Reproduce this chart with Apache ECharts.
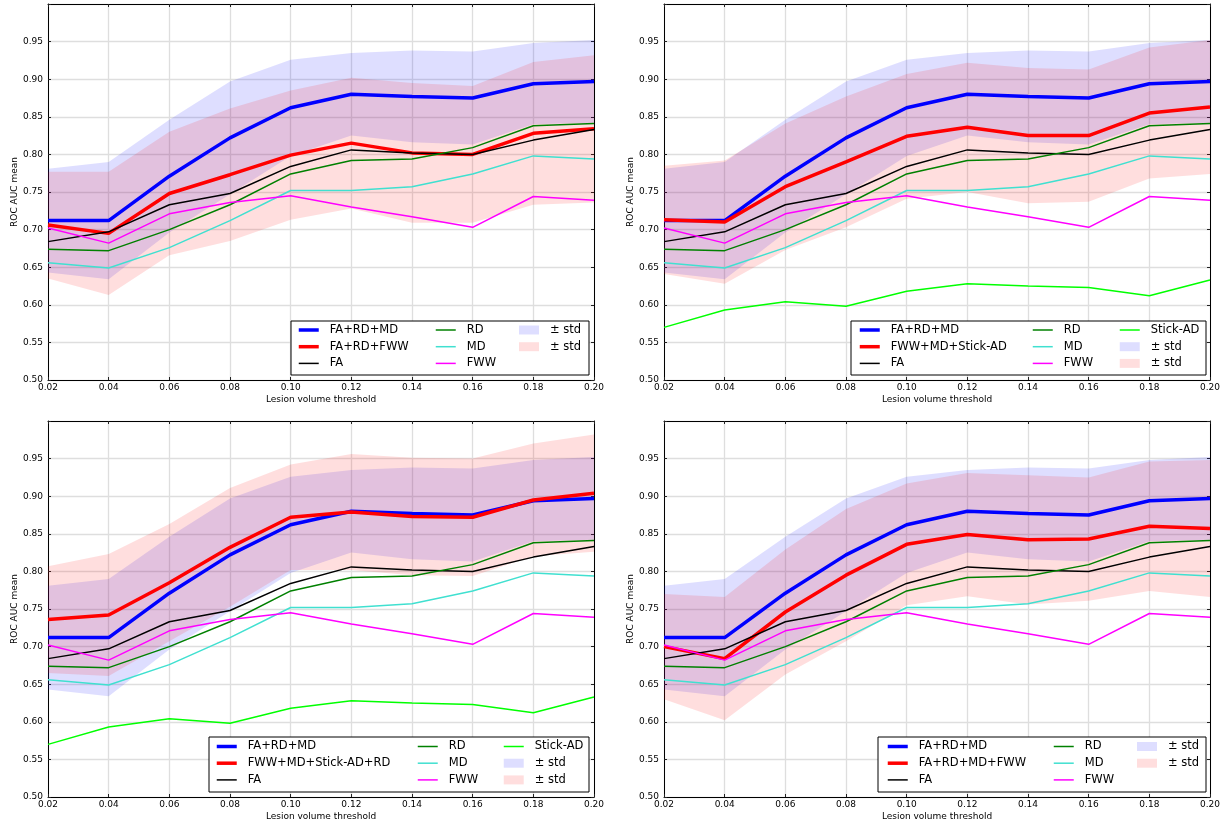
<!DOCTYPE html>
<html><head><meta charset="utf-8">
<script src="https://cdn.jsdelivr.net/npm/echarts@6/dist/echarts.min.js"></script>
<style>html,body{margin:0;padding:0;background:#fff}#c{width:1228px;height:828px}</style>
</head><body><div id="c"></div>
<script>
// ---------- data ----------
const thresholds = ['0.02', '0.04', '0.06', '0.08', '0.10', '0.12', '0.14', '0.16', '0.18', '0.20'];

const faRdMd    = [0.712, 0.712, 0.771, 0.822, 0.862, 0.880, 0.877, 0.875, 0.894, 0.897];
const faRdMdStd = [0.069, 0.078, 0.075, 0.075, 0.064, 0.055, 0.061, 0.062, 0.054, 0.055];

const fa      = [0.684, 0.697, 0.733, 0.748, 0.784, 0.806, 0.802, 0.800, 0.819, 0.833];
const rd      = [0.674, 0.672, 0.700, 0.733, 0.774, 0.792, 0.794, 0.809, 0.838, 0.841];
const md      = [0.656, 0.649, 0.676, 0.712, 0.752, 0.752, 0.757, 0.774, 0.798, 0.794];
const fww     = [0.702, 0.682, 0.721, 0.736, 0.745, 0.730, 0.717, 0.703, 0.744, 0.739];
const stickAd = [0.570, 0.593, 0.604, 0.598, 0.618, 0.628, 0.625, 0.623, 0.612, 0.633];

const faRdFww    = [0.706, 0.695, 0.748, 0.773, 0.799, 0.815, 0.802, 0.800, 0.828, 0.834];
const faRdFwwStd = [0.071, 0.082, 0.082, 0.088, 0.086, 0.087, 0.093, 0.091, 0.095, 0.098];

const fwwMdStick    = [0.713, 0.710, 0.757, 0.790, 0.824, 0.836, 0.825, 0.825, 0.855, 0.863];
const fwwMdStickStd = [0.072, 0.082, 0.084, 0.087, 0.083, 0.086, 0.090, 0.088, 0.087, 0.089];

const fwwMdStickRd    = [0.736, 0.742, 0.785, 0.832, 0.872, 0.879, 0.873, 0.872, 0.895, 0.904];
const fwwMdStickRdStd = [0.071, 0.081, 0.078, 0.079, 0.070, 0.077, 0.078, 0.078, 0.075, 0.078];

const faRdMdFww    = [0.700, 0.684, 0.746, 0.795, 0.836, 0.849, 0.842, 0.843, 0.860, 0.857];
const faRdMdFwwStd = [0.070, 0.082, 0.083, 0.088, 0.081, 0.082, 0.086, 0.082, 0.086, 0.091];

const redNames = ['FA+RD+FWW', 'FWW+MD+Stick-AD', 'FWW+MD+Stick-AD+RD', 'FA+RD+MD+FWW'];
const redMeans = [faRdFww, fwwMdStick, fwwMdStickRd, faRdMdFww];
const redStds  = [faRdFwwStd, fwwMdStickStd, fwwMdStickRdStd, faRdMdFwwStd];
const hasStick = [false, true, true, false];

// ---------- layout ----------
const FONT = 'DejaVu Sans';
const gridPos = [
  {left: 48, top: 4, width: 546, height: 376},
  {left: 664, top: 4, width: 546, height: 376},
  {left: 48, top: 421, width: 546, height: 376},
  {left: 664, top: 421, width: 546, height: 376}
];
const legendBoxes = [
  {x: 291, y: 321, w: 298, h: 54, cols: [297, 435, 519], top: 323},
  {x: 851, y: 321, w: 355, h: 54, cols: [858, 1032, 1119], top: 323},
  {x: 209, y: 737, w: 380, h: 55, cols: [215, 417, 503], top: 739.5},
  {x: 878, y: 737, w: 328, h: 55, cols: [886, 1053, 1137], top: 739.5}
];

const C = {blue: '#0000ff', red: '#ff0000', fa: '#000000', rd: '#008000', md: '#40e0d0', fww: '#ff00ff', stick: '#00ff00'};
const BAND_B = 'rgba(0,0,255,0.13)', BAND_R = 'rgba(255,0,0,0.13)';

const lower = (m, s) => m.map((v, i) => v - s[i]);
const width2 = s => s.map(v => 2 * v);

const grid = [], xAxis = [], yAxis = [], series = [], legend = [], graphic = [];

const tickStyle = {show: true, inside: true, length: 3, alignWithLabel: true, interval: 0, lineStyle: {color: '#222', width: 1}};
const axisLineStyle = {show: true, lineStyle: {color: '#000', width: 1}};
const gridLine = {show: true, interval: 0, lineStyle: {color: '#dedede', width: 1.3}};

for (let p = 0; p < 4; p++) {
  grid.push(Object.assign({containLabel: false}, gridPos[p]));
  xAxis.push({
    type: 'category', gridIndex: p, data: thresholds, boundaryGap: false, position: 'bottom',
    axisLine: axisLineStyle, axisTick: tickStyle,
    axisLabel: {fontFamily: FONT, fontSize: 9, color: '#000', margin: 3, interval: 0},
    splitLine: gridLine,
    name: 'Lesion volume threshold', nameLocation: 'middle', nameGap: 15,
    nameTextStyle: {fontFamily: FONT, fontSize: 9, color: '#000'}
  });
  xAxis.push({
    type: 'category', gridIndex: p, data: thresholds, boundaryGap: false, position: 'top',
    axisLine: axisLineStyle, axisTick: tickStyle, axisLabel: {show: false}, splitLine: {show: false}
  });
  yAxis.push({
    type: 'value', gridIndex: p, min: 0.5, max: 1.0, interval: 0.05, position: 'left',
    axisLine: axisLineStyle, axisTick: tickStyle,
    axisLabel: {fontFamily: FONT, fontSize: 9, color: '#000', margin: 5,
      formatter: v => (v > 0.99 ? '' : v.toFixed(2))},
    splitLine: gridLine,
    name: 'ROC AUC mean', nameLocation: 'middle', nameGap: 29,
    nameTextStyle: {fontFamily: FONT, fontSize: 9, color: '#000'}
  });
  yAxis.push({
    type: 'value', gridIndex: p, min: 0.5, max: 1.0, interval: 0.05, position: 'right',
    axisLine: axisLineStyle, axisTick: tickStyle, axisLabel: {show: false}, splitLine: {show: false}
  });

  const xi = 2 * p, yi = 2 * p;
  const base = {type: 'line', xAxisIndex: xi, yAxisIndex: yi, symbol: 'none', silent: true, animation: false};
  // bands (mean - std, then 2*std stacked on top)
  series.push(Object.assign({}, base, {name: '_lowB' + p, stack: 'b' + p, data: lower(faRdMd, faRdMdStd), lineStyle: {opacity: 0}}));
  series.push(Object.assign({}, base, {name: 'stdBlue', stack: 'b' + p, data: width2(faRdMdStd), color: BAND_B,
    lineStyle: {opacity: 0}, areaStyle: {color: BAND_B, opacity: 1}}));
  series.push(Object.assign({}, base, {name: '_lowR' + p, stack: 'r' + p, data: lower(redMeans[p], redStds[p]), lineStyle: {opacity: 0}}));
  series.push(Object.assign({}, base, {name: 'stdRed', stack: 'r' + p, data: width2(redStds[p]), color: BAND_R,
    lineStyle: {opacity: 0}, areaStyle: {color: BAND_R, opacity: 1}}));
  // lines
  series.push(Object.assign({}, base, {name: 'FA+RD+MD', data: faRdMd, color: C.blue, lineStyle: {width: 3.5, color: C.blue}}));
  series.push(Object.assign({}, base, {name: redNames[p], data: redMeans[p], color: C.red, lineStyle: {width: 3.5, color: C.red}}));
  series.push(Object.assign({}, base, {name: 'FA', data: fa, color: C.fa, lineStyle: {width: 1.5, color: C.fa}}));
  series.push(Object.assign({}, base, {name: 'RD', data: rd, color: C.rd, lineStyle: {width: 1.5, color: C.rd}}));
  series.push(Object.assign({}, base, {name: 'MD', data: md, color: C.md, lineStyle: {width: 1.5, color: C.md}}));
  series.push(Object.assign({}, base, {name: 'FWW', data: fww, color: C.fww, lineStyle: {width: 1.5, color: C.fww}}));
  if (hasStick[p]) {
    series.push(Object.assign({}, base, {name: 'Stick-AD', data: stickAd, color: C.stick, lineStyle: {width: 1.5, color: C.stick}}));
  }

  // legend frame
  const lb = legendBoxes[p];
  graphic.push({type: 'rect', z: 3, shape: {x: lb.x, y: lb.y, width: lb.w, height: lb.h},
    style: {fill: '#fff', stroke: '#000', lineWidth: 1}});

  const lineItem = (name, w) => ({name, lineStyle: {width: w}, itemStyle: {opacity: 0}});
  const bandItem = (name, col) => ({name, icon: 'rect', itemStyle: {color: col, opacity: 1, borderWidth: 0}});
  const col1 = [lineItem('FA+RD+MD', 3.5), lineItem(redNames[p], 3.5), lineItem('FA', 1.5)];
  const col2 = [lineItem('RD', 1.5), lineItem('MD', 1.5), lineItem('FWW', 1.5)];
  const col3 = hasStick[p]
    ? [lineItem('Stick-AD', 1.5), bandItem('stdBlue', BAND_B), bandItem('stdRed', BAND_R)]
    : [bandItem('stdBlue', BAND_B), bandItem('stdRed', BAND_R)];
  [col1, col2, col3].forEach((data, ci) => {
    legend.push({
      orient: 'vertical', left: lb.cols[ci], top: lb.top, padding: 0, itemGap: 2.7,
      itemWidth: 20, itemHeight: 9, selectedMode: false, z: 5,
      textStyle: {fontFamily: FONT, fontSize: 11.5, color: '#000', lineHeight: 14, padding: [0, 0, 0, 6]},
      formatter: n => (n.indexOf('std') === 0 ? '± std' : n),
      data
    });
  });
}

const chart = echarts.init(document.getElementById('c'), null, {renderer: 'canvas'});
chart.setOption({animation: false, backgroundColor: '#fff', grid, xAxis, yAxis, series, legend, graphic});
</script>
</body></html>
